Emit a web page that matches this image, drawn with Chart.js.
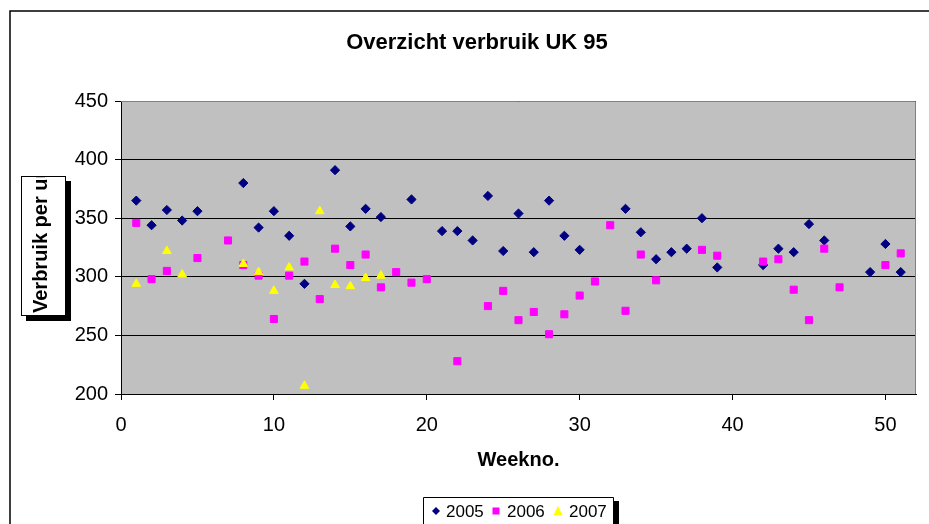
<!DOCTYPE html>
<html>
<head>
<meta charset="utf-8">
<title>Overzicht verbruik UK 95</title>
<script src="https://cdn.jsdelivr.net/npm/chart.js@4.4.0/dist/chart.umd.min.js"></script>
<style>
	body { margin: 0; background: #fff; }
	canvas { display: block; }
</style>
</head>
<body>
<canvas id="verbruik" width="929" height="524"></canvas>
<script>

// week numbers and usage per year
var weeks2005 = [1, 2, 3, 4, 5, 8, 9, 10, 11, 12, 14, 15, 16, 17, 19, 21, 22, 23, 24, 25, 26, 27, 28, 29, 30, 33, 34, 35, 36, 37, 38, 39, 42, 43, 44, 45, 46, 49, 50, 51];
var usage2005 = [365, 344, 357, 348, 356, 380, 342, 356, 335, 294, 391, 343, 358, 351, 366, 339, 339, 331, 369, 322, 354, 321, 365, 335, 323, 358, 338, 315, 321, 324, 350, 308, 310, 324, 321, 345, 331, 304, 328, 304];

var weeks2006 = [1, 2, 3, 5, 7, 8, 9, 10, 11, 12, 13, 14, 15, 16, 17, 18, 19, 20, 22, 24, 25, 26, 27, 28, 29, 30, 31, 32, 33, 34, 35, 38, 39, 42, 43, 44, 45, 46, 47, 50, 51];
var usage2006 = [346, 298, 305, 316, 331, 310, 301, 264, 301, 313, 281, 324, 310, 319, 291, 304, 295, 298, 228, 275, 288, 263, 270, 251, 268, 284, 296, 344, 271, 319, 297, 323, 318, 313, 315, 289, 263, 324, 291, 310, 320];

var weeks2007 = [1, 3, 4, 8, 9, 10, 11, 12, 13, 14, 15, 16, 17];
var usage2007 = [294, 322, 302, 311, 304, 288, 308, 207, 356, 293, 292, 299, 301];

var seriesNames = ['2005', '2006', '2007'];
var xTicks = [0, 10, 20, 30, 40, 50];
var yTicks = [200, 250, 300, 350, 400, 450];

var FONT = "'Liberation Sans', Arial, sans-serif";

function toPoints(weeks, vals) {
	var pts = [];
	for (var i = 0; i < weeks.length; i++) {
		pts.push({ x: weeks[i], y: vals[i] });
	}
	return pts;
}

// excel style bits: grey plot area, outer frame, boxed y title and legend
var excelLook = {
	id: 'excelLook',
	beforeDraw: function (chart) {
		var ctx = chart.ctx, a = chart.chartArea;
		ctx.save();
		ctx.fillStyle = '#ffffff';
		ctx.fillRect(0, 0, chart.width, chart.height);
		ctx.fillStyle = '#c0c0c0';
		ctx.fillRect(a.left, a.top, a.right - a.left, a.bottom - a.top);
		ctx.restore();
	},
	beforeDatasetsDraw: function (chart) {
		var ctx = chart.ctx, a = chart.chartArea;
		ctx.save();
		ctx.strokeStyle = '#808080';
		ctx.lineWidth = 1;
		ctx.beginPath();
		ctx.moveTo(a.left, a.top + 0.5);
		ctx.lineTo(a.right - 0.5, a.top + 0.5);
		ctx.lineTo(a.right - 0.5, a.bottom);
		ctx.stroke();
		ctx.restore();
	},
	afterDraw: function (chart) {
		var ctx = chart.ctx;
		ctx.save();

		// outer chart frame (runs off the right and bottom)
		ctx.strokeStyle = '#000';
		ctx.lineWidth = 1.5;
		ctx.beginPath();
		ctx.moveTo(10, chart.height);
		ctx.lineTo(10, 11);
		ctx.lineTo(chart.width, 11);
		ctx.stroke();

		// y axis title box with shadow, text is cut off like in the original
		ctx.fillStyle = '#000';
		ctx.fillRect(26, 181, 45, 140);
		ctx.fillStyle = '#fff';
		ctx.fillRect(21, 176, 45, 140);
		ctx.lineWidth = 1;
		ctx.strokeRect(21.5, 176.5, 44, 139);
		ctx.save();
		ctx.beginPath();
		ctx.rect(22, 177, 43, 138);
		ctx.clip();
		ctx.translate(47, 313);
		ctx.rotate(-Math.PI / 2);
		ctx.fillStyle = '#000';
		ctx.font = 'bold 20px ' + FONT;
		ctx.textBaseline = 'alphabetic';
		ctx.textAlign = 'left';
		ctx.fillText('Verbruik per uur', 0, 0);
		ctx.restore();

		// legend box
		ctx.fillStyle = '#000';
		ctx.fillRect(614, 501, 5, chart.height - 501);
		ctx.fillStyle = '#fff';
		ctx.fillRect(423, 497, 191, chart.height - 497);
		ctx.strokeStyle = '#000';
		ctx.lineWidth = 1;
		ctx.beginPath();
		ctx.moveTo(423.5, chart.height);
		ctx.lineTo(423.5, 497.5);
		ctx.lineTo(613.5, 497.5);
		ctx.lineTo(613.5, chart.height);
		ctx.stroke();

		var markX = [436, 496, 558];
		var textX = [446, 507, 569];
		var ly = 511;
		ctx.font = '17px ' + FONT;
		ctx.textBaseline = 'middle';
		ctx.textAlign = 'left';
		for (var i = 0; i < seriesNames.length; i++) {
			var ds = chart.data.datasets[i];
			ctx.fillStyle = ds.backgroundColor;
			ctx.beginPath();
			if (ds.pointStyle === 'rectRot') {
				ctx.moveTo(markX[i] - 4, ly);
				ctx.lineTo(markX[i], ly - 4);
				ctx.lineTo(markX[i] + 4, ly);
				ctx.lineTo(markX[i], ly + 4);
			} else if (ds.pointStyle === 'rect') {
				ctx.rect(markX[i] - 3.5, ly - 3.5, 7, 7);
			} else {
				ctx.moveTo(markX[i], ly - 5);
				ctx.lineTo(markX[i] + 4.5, ly + 4);
				ctx.lineTo(markX[i] - 4.5, ly + 4);
			}
			ctx.closePath();
			ctx.fill();
			ctx.fillStyle = '#000';
			ctx.fillText(seriesNames[i], textX[i], ly + 1);
		}

		ctx.restore();
	}
};

var ctx = document.getElementById('verbruik').getContext('2d');

new Chart(ctx, {
	type: 'scatter',
	data: {
		datasets: [{
			label: seriesNames[0],
			data: toPoints(weeks2005, usage2005),
			pointStyle: 'rectRot',
			pointRadius: 4.6,
			backgroundColor: '#000080',
			borderColor: '#000080',
			borderWidth: 1,
			order: 3
		}, {
			label: seriesNames[1],
			data: toPoints(weeks2006, usage2006),
			pointStyle: 'rect',
			pointRadius: 5,
			backgroundColor: '#ff00ff',
			borderColor: '#ff00ff',
			borderWidth: 1,
			order: 2
		}, {
			label: seriesNames[2],
			data: toPoints(weeks2007, usage2007),
			pointStyle: 'triangle',
			pointRadius: 5,
			backgroundColor: '#ffff00',
			borderColor: '#ffff00',
			borderWidth: 1,
			order: 1
		}]
	},
	options: {
		responsive: false,
		animation: false,
		devicePixelRatio: 1,
		layout: { padding: { top: 0, left: 38, right: 13, bottom: 52 } },
		plugins: {
			legend: { display: false },
			tooltip: { enabled: false },
			title: {
				display: true,
				text: 'Overzicht verbruik UK 95',
				color: '#000',
				font: { family: FONT, size: 22, weight: 'bold' },
				padding: { top: 30, bottom: 44.6 }
			}
		},
		scales: {
			x: {
				type: 'linear',
				position: 'bottom',
				min: 0,
				max: 52,
				afterBuildTicks: function (axis) {
					axis.ticks = xTicks.map(function (v) { return { value: v }; });
				},
				afterFit: function (axis) { axis.height = 78; },
				ticks: {
					color: '#000',
					font: { family: FONT, size: 20 },
					padding: 13,
					maxRotation: 0
				},
				grid: { drawOnChartArea: false, tickLength: 6, color: '#000' },
				border: { color: '#000' },
				title: {
					display: true,
					text: 'Weekno.',
					color: '#000',
					font: { family: FONT, size: 20, weight: 'bold' },
					padding: 0
				}
			},
			y: {
				min: 200,
				max: 450,
				afterBuildTicks: function (axis) {
					axis.ticks = yTicks.map(function (v) { return { value: v }; });
				},
				afterFit: function (axis) { axis.width = 83; },
				ticks: {
					color: '#000',
					font: { family: FONT, size: 20 },
					padding: 7
				},
				grid: { tickLength: 6, color: '#000' },
				border: { color: '#000' }
			}
		}
	},
	plugins: [excelLook]
});
</script>
</body>
</html>
